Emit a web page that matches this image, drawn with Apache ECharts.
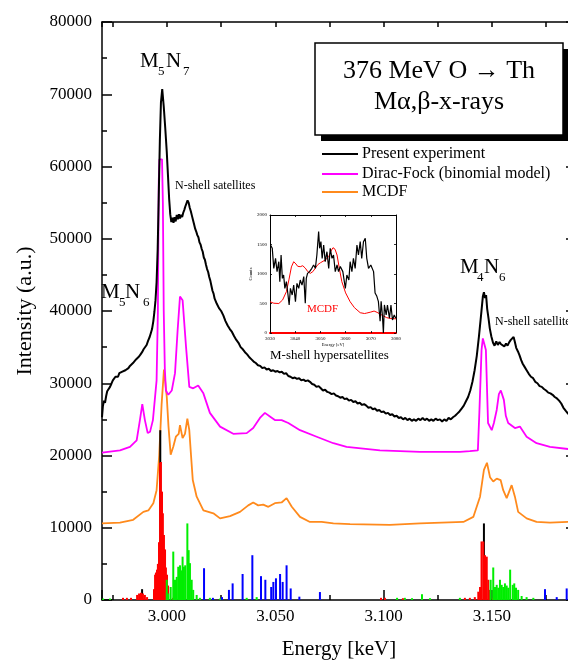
<!DOCTYPE html>
<html>
<head>
<meta charset="utf-8">
<script src="https://cdn.jsdelivr.net/npm/echarts@6/dist/echarts.min.js"></script>
<style>
html, body { margin: 0; padding: 0; background: #fff; }
#chart { width: 568px; height: 663px; }
</style>
</head>
<body>
<div id="chart"></div>
<script>
// energy range of the main plot (keV)
var xMin = 2.970;
var xMax = 3.1888;
var yTicks = [0, 80000, 10000]; // min, max, step

// measured spectrum, [keV, counts]
var experiment = [
  [2.9700,25300],[2.9704,26800],[2.9709,27600],[2.9714,27300],[2.9719,28200],[2.9724,28900],[2.9730,28700],
  [2.9737,29500],[2.9743,29900],[2.9750,30400],[2.9756,30300],[2.9762,30900],[2.9768,31100],[2.9774,30900],
  [2.9780,31400],[2.9787,31200],[2.9794,31600],[2.9801,31500],[2.9808,31800],[2.9815,31700],[2.9822,32100],
  [2.9829,32400],[2.9836,32300],[2.9843,32800],[2.9850,32900],[2.9857,33300],[2.9864,33200],[2.9871,33700],
  [2.9878,34000],[2.9885,34300],[2.9892,34700],[2.9899,34900],[2.9906,35300],[2.9913,35900],[2.9920,36400],
  [2.9926,37000],[2.9931,37500],[2.9937,38600],[2.9942,39900],[2.9947,41500],[2.9952,44000],[2.9957,48500],
  [2.9962,56000],[2.9967,63500],[2.9972,68800],[2.9978,70700],[2.9985,68300],[2.9992,65300],[2.9999,62000],
  [3.0005,58500],[3.0010,55500],[3.0015,53400],[3.0020,52300],[3.0025,52900],[3.0030,52200],[3.0035,53000],
  [3.0040,52400],[3.0045,53300],[3.0050,52700],[3.0055,53400],[3.0060,52800],[3.0065,53300],[3.0070,53000],
  [3.0075,53600],[3.0080,54000],[3.0085,54500],[3.0090,54900],[3.0095,55300],[3.0100,55000],[3.0105,54300],
  [3.0110,53800],[3.0115,53200],[3.0120,52600],[3.0125,52000],[3.0130,51400],[3.0135,51000],[3.0140,50500],
  [3.0145,50200],[3.0150,49500],[3.0155,49200],[3.0160,48600],[3.0165,48200],[3.0170,47400],[3.0175,47100],
  [3.0180,46400],[3.0185,45800],[3.0190,45400],[3.0195,44700],[3.0200,44200],[3.0205,43500],[3.0210,42800],
  [3.0215,42400],[3.0220,41700],[3.0230,41000],[3.0240,40400],[3.0250,40000],[3.0260,39400],[3.0270,38600],
  [3.0280,38000],[3.0290,37500],[3.0300,37100],[3.0310,36500],[3.0320,36000],[3.0330,35600],[3.0340,35000],
  [3.0350,34700],[3.0360,34300],[3.0370,34000],[3.0380,33600],[3.0390,33300],[3.0400,33000],[3.0410,32800],
  [3.0420,32500],[3.0430,32400],[3.0440,32100],[3.0450,32200],[3.0460,31900],[3.0470,32000],[3.0480,31700],
  [3.0490,31800],[3.0500,31600],[3.0510,31700],[3.0520,31500],[3.0530,31600],[3.0540,31300],[3.0550,31400],
  [3.0560,31000],[3.0570,30900],[3.0580,30700],[3.0590,30800],[3.0600,30600],[3.0610,30700],[3.0620,30400],
  [3.0630,30500],[3.0640,30300],[3.0650,30400],[3.0660,30200],[3.0670,29900],[3.0680,29800],[3.0690,29500],
  [3.0700,29600],[3.0710,29300],[3.0720,29000],[3.0730,29100],[3.0740,28800],[3.0750,28700],[3.0760,28500],
  [3.0770,28600],[3.0780,28300],[3.0790,28200],[3.0800,28000],[3.0810,28100],[3.0820,27800],[3.0830,27900],
  [3.0840,27600],[3.0850,27700],[3.0860,27400],[3.0870,27500],[3.0880,27200],[3.0890,27300],[3.0900,27000],
  [3.0910,27100],[3.0920,26900],[3.0930,26600],[3.0940,26700],[3.0950,26400],[3.0960,26500],[3.0970,26200],
  [3.0980,26300],[3.0990,26000],[3.1000,26100],[3.1010,25800],[3.1020,25900],[3.1030,25600],[3.1040,25700],
  [3.1050,25400],[3.1060,25500],[3.1070,25200],[3.1080,25300],[3.1090,25000],[3.1100,25200],[3.1110,24900],
  [3.1120,25100],[3.1130,24800],[3.1140,25000],[3.1150,24800],[3.1160,25100],[3.1170,24900],[3.1180,25200],
  [3.1190,24900],[3.1200,25100],[3.1210,24800],[3.1220,25000],[3.1230,24800],[3.1240,25100],[3.1250,24900],
  [3.1260,25000],[3.1270,24700],[3.1280,25000],[3.1290,24800],[3.1300,25200],[3.1310,25000],[3.1320,25300],
  [3.1330,25500],[3.1340,25800],[3.1350,26100],[3.1360,26500],[3.1370,26900],[3.1380,27500],[3.1390,28100],
  [3.1400,29000],[3.1410,30200],[3.1420,31800],[3.1430,33800],[3.1440,36500],[3.1450,39500],[3.1458,42000],
  [3.1463,42600],[3.1468,41800],[3.1473,42200],[3.1478,40300],[3.1485,38800],[3.1490,37600],[3.1497,36500],
  [3.1505,35600],[3.1512,35200],[3.1520,35800],[3.1527,35300],[3.1535,35700],[3.1542,35400],[3.1550,35600],
  [3.1557,35100],[3.1565,35500],[3.1572,35200],[3.1580,35700],[3.1587,36000],[3.1595,36200],[3.1600,36400],
  [3.1605,35800],[3.1612,34900],[3.1620,34400],[3.1627,33900],[3.1635,33200],[3.1642,32700],[3.1650,32300],
  [3.1660,31800],[3.1670,31300],[3.1680,30900],[3.1690,30700],[3.1700,30200],[3.1710,30000],[3.1720,29600],
  [3.1730,29500],[3.1740,29200],[3.1750,29000],[3.1760,28700],[3.1770,28600],[3.1780,28400],[3.1790,28100],
  [3.1800,27900],[3.1810,27600],[3.1820,27200],[3.1830,26600],[3.1840,26200],[3.1851,25800],[3.1888,25200]
];

// Dirac-Fock (binomial model), offset by 20000
var diracFock = [
  [2.9700,20400],[2.9783,20700],[2.9829,21200],[2.9860,22100],[2.9875,24900],[2.9886,27100],[2.9898,24900],
  [2.9911,23100],[2.9922,23300],[2.9935,24900],[2.9952,30400],[2.9958,40000],[2.9962,58000],[2.9965,61000],
  [2.9977,61000],[2.9981,55000],[2.9985,40000],[2.9990,32000],[2.9995,29000],[3.0006,28400],[3.0022,29000],
  [3.0037,31400],[3.0049,37300],[3.0060,42000],[3.0072,41500],[3.0088,35000],[3.0103,29500],[3.0121,29300],
  [3.0144,29700],[3.0168,28600],[3.0198,25900],[3.0245,24000],[3.0306,23000],[3.0368,23100],[3.0398,23800],
  [3.0429,25200],[3.0452,25900],[3.0475,25400],[3.0498,24900],[3.0529,24900],[3.0560,24500],[3.0614,23500],
  [3.0691,22600],[3.0768,21700],[3.0829,21200],[3.0983,20700],[3.1168,20500],[3.1352,20500],[3.1398,20600],
  [3.1435,20700],[3.1442,26000],[3.1452,34600],[3.1458,36200],[3.1465,36200],[3.1472,34600],[3.1482,24500],
  [3.1499,23500],[3.1509,24500],[3.1522,26300],[3.1532,28500],[3.1541,29000],[3.1555,27700],[3.1564,25500],
  [3.1575,24500],[3.1606,23800],[3.1629,24000],[3.1660,22600],[3.1706,21700],[3.1768,21200],[3.1851,20900],
  [3.1888,20800]
];

// MCDF, offset by 10000
var mcdf = [
  [2.9700,10600],[2.9783,10700],[2.9844,11100],[2.9891,12200],[2.9914,12400],[2.9937,13400],[2.9952,15200],
  [2.9964,20000],[2.9975,27000],[2.9986,31900],[2.9999,28100],[3.0007,24000],[3.0017,20100],[3.0029,21200],
  [3.0041,22600],[3.0054,23000],[3.0060,24200],[3.0072,22400],[3.0083,23000],[3.0094,25100],[3.0103,23500],
  [3.0111,20000],[3.0119,16600],[3.0137,14300],[3.0168,12400],[3.0214,12000],[3.0245,11300],[3.0291,11600],
  [3.0337,12200],[3.0375,13100],[3.0398,13500],[3.0421,13100],[3.0444,13200],[3.0468,12900],[3.0498,13400],
  [3.0529,13500],[3.0552,14100],[3.0576,12900],[3.0614,11500],[3.0660,10800],[3.0714,10800],[3.0768,10600],
  [3.0845,10500],[3.1029,10400],[3.1168,10600],[3.1368,10800],[3.1414,11500],[3.1445,14300],[3.1463,18000],
  [3.1477,19000],[3.1491,17000],[3.1506,16400],[3.1522,16800],[3.1540,16600],[3.1552,15200],[3.1568,14100],
  [3.1591,15900],[3.1606,14300],[3.1621,12200],[3.1660,11300],[3.1706,10800],[3.1768,10700],[3.1851,10800],
  [3.1888,10800]
];

// stick spectra, [keV, intensity]
var sticksBlack = [[2.9885,1500],[2.9969,23500],[3.1463,10600]];
var sticksRed = [
  [2.9797,300],[2.9815,300],[2.9834,300],[2.9862,700],[2.9871,900],[2.9880,1000],[2.9889,900],[2.9898,700],
  [2.9908,400],[2.9940,1500],[2.9945,3500],[2.9949,3800],[2.9954,4200],[2.9958,5000],[2.9963,8000],
  [2.9968,19000],[2.9972,19100],[2.9977,15000],[2.9981,12000],[2.9986,9000],[2.9991,7000],[2.9995,4500],
  [3.0000,3500],[3.0005,2000],[3.0028,300],[3.0060,300],[3.0988,300],[3.1006,300],[3.1089,250],
  [3.1375,300],[3.1398,300],[3.1421,400],[3.1437,1150],[3.1445,1800],[3.1452,8100],[3.1460,8100],
  [3.1468,6200],[3.1476,6000],[3.1483,2800],[3.1491,1400],[3.1505,300]
];
var sticksGreen = [
  [2.9705,200],[2.9737,200],[2.9999,2800],[3.0006,900],[3.0017,1800],[3.0029,6700],[3.0037,2800],
  [3.0045,3200],[3.0052,4600],[3.0060,4800],[3.0066,4100],[3.0072,6000],[3.0078,4600],[3.0084,4800],
  [3.0094,10600],[3.0100,6900],[3.0106,5100],[3.0114,2800],[3.0121,1400],[3.0137,700],[3.0152,300],
  [3.0198,300],[3.0245,200],[3.0368,300],[3.0414,400],[3.1062,300],[3.1098,300],[3.1131,250],[3.1177,800],
  [3.1214,250],[3.1352,300],[3.1494,2800],[3.1506,4500],[3.1514,1800],[3.1522,2100],[3.1529,1700],
  [3.1537,2800],[3.1545,2100],[3.1552,1800],[3.1560,2300],[3.1568,2000],[3.1575,1700],[3.1584,4200],
  [3.1596,2100],[3.1603,2300],[3.1611,1700],[3.1621,1400],[3.1637,550],[3.1660,400],[3.1691,300]
];
var sticksBlue = [
  [3.0171,4400],[3.0212,300],[3.0254,400],[3.0286,1400],[3.0303,2300],[3.0349,3600],[3.0394,6200],
  [3.0434,3300],[3.0454,2800],[3.0481,1800],[3.0491,2500],[3.0503,3000],[3.0522,3600],[3.0534,2500],
  [3.0552,4800],[3.0571,1600],[3.0611,460],[3.0706,1100],[3.1745,1500],[3.1799,400],[3.1845,1600]
];

// inset (eV, counts)
var insetExp = [
  [3030.2,1492],[3030.9,1435],[3031.5,1096],[3032.2,1265],[3032.8,1040],[3033.5,1209],[3033.9,870],
  [3034.4,1322],[3034.9,926],[3035.4,983],[3035.9,757],[3036.5,870],[3037.0,700],[3037.6,475],[3038.1,757],
  [3038.8,644],[3039.4,813],[3040.1,531],[3040.7,841],[3041.4,757],[3042.0,898],[3042.7,813],[3043.4,955],
  [3044.0,503],[3044.4,926],[3044.9,1011],[3045.7,1040],[3046.6,1096],[3047.3,1153],[3048.0,1096],
  [3048.6,1322],[3049.3,1718],[3049.7,1435],[3050.2,1548],[3050.7,1265],[3051.3,1492],[3051.9,1209],
  [3052.6,1378],[3053.3,1096],[3053.9,1435],[3054.6,1265],[3055.2,1322],[3055.9,1040],[3056.6,1153],
  [3057.2,1040],[3057.9,1126],[3058.9,1040],[3059.9,757],[3060.5,983],[3061.3,898],[3061.8,1209],
  [3062.5,1040],[3063.1,1265],[3063.8,1096],[3064.5,1492],[3065.1,1322],[3065.8,1548],[3066.4,1265],
  [3067.1,1548],[3067.8,1605],[3068.4,1265],[3069.1,1096],[3070.0,1153],[3071.1,1040],[3071.7,678],
  [3072.4,622],[3073.0,537],[3073.7,198],[3074.1,537],[3074.6,305],[3075.0,0],[3075.4,475],[3076.1,305],
  [3076.6,475],[3077.4,250],[3078.0,475],[3078.6,220],[3079.3,305],[3079.9,250]
];
var insetMcdf = [
  [3030,530],[3031.5,505],[3033.5,500],[3035,560],[3036.5,700],[3037.5,900],[3038.5,1120],[3039.4,1208],
  [3040.3,1170],[3041,1130],[3042,1124],[3043,1140],[3044,1100],[3045,1040],[3046,1011],[3047,1040],
  [3048,1100],[3049,1160],[3050,1190],[3050.6,1208],[3052,1240],[3053.3,1293],[3054.2,1390],[3055,1446],
  [3055.8,1420],[3056.6,1322],[3057.5,1100],[3058.5,870],[3060,680],[3061.8,530],[3063.5,430],[3065.8,344],
  [3067.5,330],[3068.4,338],[3070,355],[3071.3,372],[3072.5,350],[3073.7,320],[3075,290],[3076.3,260],
  [3078,245],[3080,240]
];

var serif = '"Liberation Serif", "Times New Roman", serif';
var black = '#000';

var dom = document.getElementById('chart');
var myChart = echarts.init(dom);

function stickItem(params, api) {
  var top = api.coord([api.value(0), api.value(1)]);
  var base = api.coord([api.value(0), 0]);
  return {
    type: 'rect',
    shape: { x: top[0] - 1, y: top[1], width: 2, height: base[1] - top[1] },
    style: { fill: api.visual('color') }
  };
}

function getSticks(name, data, color) {
  return {
    name: name,
    type: 'custom',
    renderItem: stickItem,
    data: data,
    encode: { x: 0, y: 1 },
    itemStyle: { color: color },
    xAxisIndex: 0,
    yAxisIndex: 0,
    z: 5
  };
}

function getLine(name, data, color, width, axisIndex) {
  return {
    name: name,
    type: 'line',
    data: data,
    symbol: 'none',
    showSymbol: false,
    lineStyle: { color: color, width: width },
    itemStyle: { color: color },
    xAxisIndex: axisIndex,
    yAxisIndex: axisIndex,
    z: 4
  };
}

function frameAxis(grid, pos, extra) {
  var ax = {
    type: 'value',
    gridIndex: grid,
    position: pos,
    axisLine: { show: true, onZero: false, lineStyle: { color: black, width: 1.5 } },
    axisTick: { show: true, inside: true, length: 10, lineStyle: { color: black, width: 1.5 } },
    minorTick: { show: true, splitNumber: 2, length: 5, lineStyle: { color: black, width: 1.5 } },
    splitLine: { show: false },
    minorSplitLine: { show: false },
    axisLabel: { show: false }
  };
  for (var k in extra) ax[k] = extra[k];
  return ax;
}

function keVLabel(v) {
  var r = v / 0.05;
  return Math.abs(r - Math.round(r)) < 1e-6 ? v.toFixed(3) : '';
}

function txt(str, x, y, size, extra) {
  var st = { text: str, font: size + 'px ' + serif, fill: black, textAlign: 'left', textVerticalAlign: 'middle' };
  for (var k in extra) st[k] = extra[k];
  return { type: 'text', x: x, y: y, z: 100, style: st };
}

function legendLine(y, color) {
  return { type: 'line', z: 100, shape: { x1: 322, y1: y, x2: 358, y2: y }, style: { stroke: color, lineWidth: 2 } };
}

var insetTick = { show: true, inside: true, length: 2, lineStyle: { color: black, width: 0.8 } };
var insetLabel = { show: true, fontFamily: serif, fontSize: 5, color: black, margin: 3, formatter: function (v) { return String(v); } };

var option = {
  animation: false,
  backgroundColor: '#fff',
  grid: [
    { left: 102, top: 22, width: 474, height: 578, containLabel: false, outerBoundsMode: 'none' },
    { left: 270, top: 215, width: 126, height: 118, containLabel: false, outerBoundsMode: 'none' }
  ],
  xAxis: [
    frameAxis(0, 'bottom', {
      min: xMin, max: xMax, splitNumber: 5,
      axisLabel: { show: true, margin: 8, fontFamily: serif, fontSize: 17, color: black, formatter: keVLabel },
      name: 'Energy [keV]', nameLocation: 'middle', nameGap: 39,
      nameTextStyle: { fontFamily: serif, fontSize: 21, color: black }
    }),
    frameAxis(0, 'top', {
      min: xMin, max: xMax, splitNumber: 5,
      axisTick: { show: true, inside: true, length: 5, lineStyle: { color: black, width: 1.5 } }
    }),
    frameAxis(1, 'bottom', {
      min: 3030, max: 3080, interval: 10,
      axisLine: { show: true, onZero: false, lineStyle: { color: '#ff0000', width: 2 } },
      axisTick: insetTick, minorTick: { show: false },
      axisLabel: insetLabel,
      name: 'Energy [eV]', nameLocation: 'middle', nameGap: 8,
      nameTextStyle: { fontFamily: serif, fontSize: 4.5, color: black }
    }),
    frameAxis(1, 'top', {
      min: 3030, max: 3080, interval: 10,
      axisLine: { show: true, onZero: false, lineStyle: { color: black, width: 1 } },
      axisTick: insetTick, minorTick: { show: false }
    })
  ],
  yAxis: [
    frameAxis(0, 'left', {
      min: yTicks[0], max: yTicks[1], interval: yTicks[2],
      axisLabel: { show: true, margin: 10, fontFamily: serif, fontSize: 17, color: black, formatter: function (v) { return String(v); } },
      name: 'Intensity (a.u.)', nameLocation: 'middle', nameGap: 66,
      nameTextStyle: { fontFamily: serif, fontSize: 22, color: black }
    }),
    frameAxis(0, 'right', { min: yTicks[0], max: yTicks[1], interval: yTicks[2] }),
    frameAxis(1, 'left', {
      min: 0, max: 2000, interval: 500,
      axisLine: { show: true, onZero: false, lineStyle: { color: black, width: 1 } },
      axisTick: insetTick, minorTick: { show: false },
      axisLabel: insetLabel,
      name: 'Counts', nameLocation: 'middle', nameGap: 13,
      nameTextStyle: { fontFamily: serif, fontSize: 4.5, color: black }
    }),
    frameAxis(1, 'right', {
      min: 0, max: 2000, interval: 500,
      axisLine: { show: true, onZero: false, lineStyle: { color: black, width: 1 } },
      axisTick: insetTick, minorTick: { show: false }
    })
  ],
  series: [
    getLine('MCDF', mcdf, '#ff8a1c', 1.8, 0),
    getLine('Dirac-Fock (binomial model)', diracFock, '#ff00ff', 1.8, 0),
    getLine('Present experiment', experiment, '#000', 2, 0),
    getSticks('black sticks', sticksBlack, '#000'),
    getSticks('red sticks', sticksRed, '#ff0000'),
    getSticks('green sticks', sticksGreen, '#00ee00'),
    getSticks('blue sticks', sticksBlue, '#0000ff'),
    getLine('inset MCDF', insetMcdf, '#ff0000', 1, 2),
    getLine('inset experiment', insetExp, '#000', 1.2, 2)
  ],
  graphic: [
    // title box with drop shadow
    { type: 'rect', z: 100, shape: { x: 321, y: 49, width: 248, height: 92 }, style: { fill: '#000' } },
    { type: 'rect', z: 100, shape: { x: 315, y: 43, width: 248, height: 92 }, style: { fill: '#fff', stroke: '#000', lineWidth: 1.5 } },
    txt('376 MeV O \u2192 Th', 439, 71, 26, { textAlign: 'center' }),
    txt('M\u03b1,\u03b2-x-rays', 439, 102, 26, { textAlign: 'center' }),
    // legend
    legendLine(154, '#000'), txt('Present experiment', 362, 154, 16),
    legendLine(174, '#ff00ff'), txt('Dirac-Fock (binomial model)', 362, 174, 16),
    legendLine(192, '#ff8a1c'), txt('MCDF', 362, 192, 16),
    // peak labels
    txt('M', 140, 61, 21), txt('5', 158, 72, 13), txt('N', 166, 61, 21), txt('7', 183, 72, 13),
    txt('M', 101, 292, 21), txt('5', 119, 303, 13), txt('N', 125, 292, 21), txt('6', 143, 303, 13),
    txt('M', 460, 267, 21), txt('4', 477, 278, 13), txt('N', 484, 267, 21), txt('6', 499, 278, 13),
    txt('N-shell satellites', 175, 186, 12),
    txt('N-shell satellites', 495, 322, 12),
    txt('M-shell hypersatellites', 270, 356, 13),
    txt('MCDF', 307, 309, 11, { fill: '#ff0000' })
  ]
};

myChart.setOption(option);
</script>
</body>
</html>
